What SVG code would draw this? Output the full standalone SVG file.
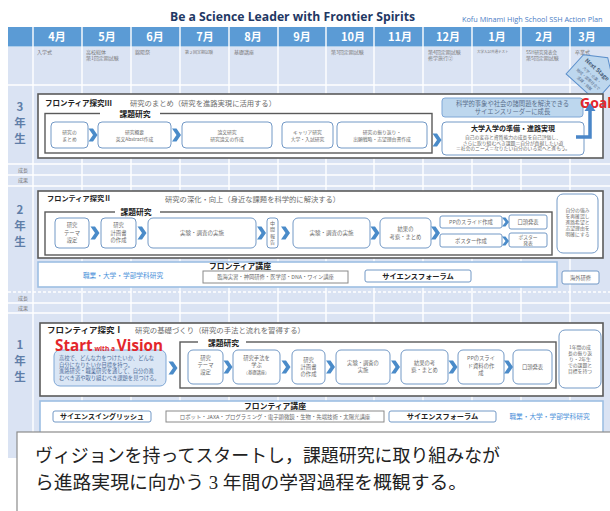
<svg xmlns="http://www.w3.org/2000/svg" width="610" height="511" viewBox="0 0 610 511">
<defs>
<style>
.j{font-family:"Noto Sans CJK JP","Noto Sans",sans-serif}
.g{fill:#6b6b6b}
.b{font-weight:700}
.bx{fill:#fff;stroke:#7399c6;stroke-width:1}
.sec{fill:#fff;stroke:#5a5a5a;stroke-width:1.6}
.inn{fill:none;stroke:#5a5a5a;stroke-width:1.4}
.low{fill:#fff;stroke:#9dbfe3;stroke-width:1.6}
.gry{fill:#fff;stroke:#8a8a8a;stroke-width:1}
.mon{font-family:"Noto Sans CJK JP",sans-serif;font-weight:700;font-size:11px;fill:#fff}
.ev{font-family:"Noto Sans CJK JP",sans-serif;font-size:5px;fill:#7a7a7a}
.yr{font-family:"Noto Sans CJK JP",sans-serif;font-weight:700;font-size:11.5px;fill:#5f7ea8}
.gl{stroke:#fff;stroke-width:1.4}
</style>
<path id="chev" d="M-4.5,-6.5 L0,-6.5 L4.5,0 L0,6.5 L-4.5,6.5 L0,0 Z" fill="#4a8bc9"/>
<path id="chevs" d="M-3.5,-4.5 L0,-4.5 L3.5,0 L0,4.5 L-3.5,4.5 L0,0 Z" fill="#4a8bc9"/>
</defs>
<rect x="0" y="0" width="610" height="511" fill="#fff"/>

<g id="grid">
<rect x="8" y="27" width="602" height="19.5" fill="#5b9bd5"/>
<rect x="8" y="47" width="602" height="411" fill="#dae3f3"/>
<g class="gl">
<line x1="33" y1="27" x2="33" y2="458"/><line x1="82" y1="27" x2="82" y2="458"/><line x1="131" y1="27" x2="131" y2="458"/><line x1="180" y1="27" x2="180" y2="458"/><line x1="229" y1="27" x2="229" y2="458"/><line x1="278" y1="27" x2="278" y2="458"/><line x1="326" y1="27" x2="326" y2="458"/><line x1="374" y1="27" x2="374" y2="458"/><line x1="423" y1="27" x2="423" y2="458"/><line x1="472" y1="27" x2="472" y2="458"/><line x1="521" y1="27" x2="521" y2="458"/><line x1="570" y1="27" x2="570" y2="458"/>
<line x1="8" y1="85" x2="610" y2="85"/><line x1="8" y1="164" x2="610" y2="164"/><line x1="8" y1="175" x2="610" y2="175"/><line x1="8" y1="186" x2="610" y2="186"/><line x1="8" y1="303" x2="610" y2="303"/><line x1="8" y1="313" x2="610" y2="313"/>
<line x1="8" y1="292" x2="610" y2="292" stroke-dasharray="3 2"/>
</g>
<g class="mon" text-anchor="middle">
<text x="57" y="41">4月</text><text x="107" y="41">5月</text><text x="155" y="41">6月</text><text x="205" y="41">7月</text><text x="253" y="41">8月</text><text x="302" y="41">9月</text><text x="353" y="41">10月</text><text x="400" y="41">11月</text><text x="448" y="41">12月</text><text x="497" y="41">1月</text><text x="544" y="41">2月</text><text x="587" y="41">3月</text>
</g>
<g class="ev">
<text x="37" y="54">入学式</text>
<text x="86" y="54">高校総体</text><text x="86" y="60">第1回定期試験</text>
<text x="135" y="54">錦陽祭</text>
<text x="185" y="54" font-size="4">第２回定期試験</text>
<text x="234" y="54">基礎講座</text>
<text x="331" y="54">第3回定期試験</text>
<text x="428" y="54">第4回定期試験</text><text x="428" y="60">修学旅行②</text>
<text x="477" y="53" font-size="3.5">大学入試共通テスト</text>
<text x="526" y="54" font-size="4.5">SSH研究発表会</text><text x="526" y="60">第5回定期試験</text>
<text x="575" y="54">卒業式</text>
</g>
<g class="yr" text-anchor="middle">
<text x="20" y="111">3</text><text x="20" y="127">年</text><text x="20" y="143">生</text>
<text x="20" y="214">2</text><text x="20" y="230">年</text><text x="20" y="246">生</text>
<text x="20" y="349">1</text><text x="20" y="365">年</text><text x="20" y="381">生</text>
</g>
<g class="ev" font-size="4.5">
<text x="18" y="172">成長</text><text x="18" y="182">成果</text>
<text x="18" y="300">成長</text><text x="18" y="310">成果</text>
</g>
</g>

<g id="title">
<text x="170" y="21" font-family="'Open Sans','Liberation Sans',sans-serif" font-weight="700" font-size="13" fill="#1f3864" textLength="245" lengthAdjust="spacingAndGlyphs">Be a Science Leader with Frontier Spirits</text>
<text x="462" y="22" font-family="'Open Sans','Liberation Sans',sans-serif" font-size="7.3" fill="#4a7cc4">Kofu Minami High School SSH Action Plan</text>
</g>

<g id="next-stage" transform="translate(593,74) rotate(42)">
<polygon points="-20,-8 0,-22 20,-8 20,18 -20,18" fill="#bdd7ee" stroke="#5b8fcb" stroke-width="1"/>
<g class="j" text-anchor="middle">
<text x="0" y="-4" font-size="5.8" font-weight="700" fill="#4a5f7a">Next Stage</text>
<text x="0" y="3" font-size="3.8" fill="#5a6f8c">大学・企業・</text>
<text x="0" y="8.5" font-size="3.8" fill="#5a6f8c">地域・国際社会で</text>
<text x="0" y="14" font-size="3.8" fill="#5a6f8c">活躍・貢献</text>
</g>
</g>

<!-- Year 3 -->
<g id="y3">
<rect class="sec" x="38" y="94" width="565" height="64"/>
<text class="j b" x="45" y="106" font-size="7.5" fill="#222">フロンティア探究Ⅲ</text>
<text class="j g" x="130" y="106" font-size="7.3">研究のまとめ（研究を進路実現に活用する）</text>
<rect class="inn" x="45" y="113.5" width="387" height="39.5"/>
<rect x="100" y="110" width="60" height="7" fill="#fff"/>
<text class="j b" x="135" y="116.5" font-size="7.8" fill="#222" text-anchor="middle">課題研究</text>
</g>
<g id="y3-matome" class="j g" font-size="4.8" text-anchor="middle"><rect class="bx" x="51" y="122" width="37" height="26" rx="4"/><text x="69.5" y="134">研究の</text><text x="69.5" y="141">まとめ</text></g>
<g id="y3-abstract" class="j g" font-size="4.8" text-anchor="middle"><rect class="bx" x="98" y="122" width="73" height="26" rx="4"/><text x="134.5" y="134">研究概要</text><text x="134.5" y="141">英文Abstract作成</text></g>
<g id="y3-ronbun" class="j g" font-size="4.8" text-anchor="middle"><rect class="bx" x="182" y="122" width="90" height="26" rx="4"/><text x="227" y="134">論文研究</text><text x="227" y="141">研究論文の作成</text></g>
<g id="y3-career" class="j g" font-size="4.8" text-anchor="middle"><rect class="bx" x="282" y="122" width="51" height="26" rx="4"/><text x="307.5" y="134">キャリア研究</text><text x="307.5" y="141">大学・入試研究</text></g>
<g id="y3-furikaeri" class="j g" font-size="4.8" text-anchor="middle"><rect class="bx" x="337" y="122" width="90" height="26" rx="4"/><text x="382" y="134">研究の振り返り・</text><text x="382" y="141">出願戦略・志望理由書作成</text></g>
<g id="y3-shinro" class="j" text-anchor="middle"><rect class="bx" x="442" y="122" width="142" height="33" rx="4"/><text x="513" y="131" font-size="7" font-weight="700" fill="#222">大学入学の準備・進路実現</text><g class="g" font-size="4.8"><text x="513" y="139">自己の変容と資質能力の成長を自己評価し、</text><text x="513" y="144.5">さらに取り組むべき課題＝自分が貢献したい道</text><text x="513" y="150">＝社会のニーズ＝なりたい自分のいる場へと進もう。</text></g></g>
<g id="y3-goal" class="j" text-anchor="middle"><rect x="442" y="98" width="141" height="19" rx="3" fill="#bdd7ee" stroke="#7fa7d6" stroke-width="1"/><text x="512.5" y="105.5" font-size="6.3" fill="#5a6f8c">科学的事象や社会の諸問題を解決できる</text><text x="512.5" y="113.5" font-size="6.3" fill="#5a6f8c">サイエンスリーダーに成長</text></g>
<text x="580" y="107.5" font-family="'Open Sans','Liberation Sans',sans-serif" font-weight="700" font-size="14" fill="#e3262b">Goal</text>

<!-- Year 2 -->
<g id="y2">
<rect class="sec" x="38" y="191" width="565" height="67"/>
<text class="j b" x="47" y="201" font-size="7.2" fill="#222">フロンティア探究Ⅱ</text>
<text class="j g" x="165" y="202" font-size="7.3">研究の深化・向上（身近な課題を科学的に解決する）</text>
<rect class="inn" x="45" y="212" width="507" height="43"/>
<rect x="115" y="208" width="45" height="7" fill="#fff"/>
<text class="j b" x="136" y="215" font-size="7.8" fill="#222" text-anchor="middle">課題研究</text>
</g>
<g id="y2-theme" class="j g" font-size="5.3" text-anchor="middle"><rect class="bx" x="55" y="218" width="34" height="30" rx="4"/><text x="72" y="227">研究</text><text x="72" y="234.5">テーマ</text><text x="72" y="242">設定</text></g>
<g id="y2-keikaku" class="j g" font-size="5.3" text-anchor="middle"><rect class="bx" x="101" y="218" width="35" height="30" rx="4"/><text x="118.5" y="227">研究</text><text x="118.5" y="234.5">計画書</text><text x="118.5" y="242">の作成</text></g>
<g id="y2-jikken1" class="j g" font-size="5.5" text-anchor="middle"><rect class="bx" x="148" y="218" width="108" height="30" rx="5"/><text x="202" y="235">実験・調査の実施</text></g>
<g id="y2-chukan" class="j g" font-size="5" text-anchor="middle"><rect class="bx" x="267" y="218" width="11" height="30" rx="3"/><text x="272.5" y="224.5">中</text><text x="272.5" y="231">間</text><text x="272.5" y="237.5">報</text><text x="272.5" y="244">告</text></g>
<g id="y2-jikken2" class="j g" font-size="5.5" text-anchor="middle"><rect class="bx" x="293" y="218" width="77" height="30" rx="5"/><text x="331.5" y="235">実験・調査の実施</text></g>
<g id="y2-kousatsu" class="j g" font-size="5.3" text-anchor="middle"><rect class="bx" x="380" y="218" width="51" height="30" rx="5"/><text x="405.5" y="231">結果の</text><text x="405.5" y="238.5">考察・まとめ</text></g>
<g id="y2-pp" class="j g" font-size="5.3" text-anchor="middle"><rect class="bx" x="440" y="216" width="62" height="12" rx="2"/><text x="471" y="224">PPのスライド作成</text></g>
<g id="y2-poster" class="j g" font-size="5.3" text-anchor="middle"><rect class="bx" x="440" y="234" width="62" height="13" rx="2"/><text x="471" y="242.5">ポスター作成</text></g>
<g id="y2-koutou" class="j g" font-size="5.3" text-anchor="middle"><rect class="bx" x="509" y="215" width="38" height="14" rx="2"/><text x="528" y="224">口頭発表</text></g>
<g id="y2-posterhappyo" class="j g" font-size="4.8" text-anchor="middle"><rect class="bx" x="509" y="233" width="38" height="14" rx="2"/><text x="528" y="238.8">ポスター</text><text x="528" y="245.3">発表</text></g>
<g id="y2-tsuyomi" class="j g" font-size="4.8" text-anchor="middle"><rect class="bx" x="557" y="194" width="41" height="59" rx="6"/><text x="577.5" y="211.5">自分の強み</text><text x="577.5" y="217.5">を再確認し</text><text x="577.5" y="223.5">進路希望と</text><text x="577.5" y="229.5">志望理由を</text><text x="577.5" y="235.5">明確にする</text></g>
<g id="y2-koza" class="j">
<rect class="low" x="38" y="262" width="519" height="25"/>
<text x="123" y="277.5" font-size="6.7" fill="#4a90d9" text-anchor="middle">職業・大学・学部学科研究</text>
<text x="240" y="269" font-size="7.8" font-weight="700" fill="#222" text-anchor="middle">フロンティア講座</text>
<rect class="gry" x="203" y="271" width="145" height="12"/>
<text x="275.5" y="279" font-size="5.3" class="g" text-anchor="middle">臨海実習・神岡研修・医学部・DNA・ワイン講座</text>
</g>
<g id="y2-forum" class="j"><rect class="bx" x="365" y="270" width="106" height="12" rx="2"/><text x="418" y="278.8" font-size="7.2" font-weight="700" fill="#222" text-anchor="middle">サイエンスフォーラム</text></g>
<g id="y2-kaigai" class="j"><rect class="bx" x="562" y="271" width="37" height="13" rx="2"/><text x="580.5" y="279.5" font-size="5.3" class="g" text-anchor="middle">海外研修</text></g>

<!-- Year 1 -->
<g id="y1">
<rect class="sec" x="40" y="323" width="563" height="73"/>
<text class="j b" x="47" y="333" font-size="8.5" fill="#222">フロンティア探究Ⅰ</text>
<text class="j g" x="135" y="333" font-size="7.4">研究の基礎づくり（研究の手法と流れを習得する）</text>
<rect class="inn" x="180" y="342" width="376" height="46"/>
<rect x="198" y="338" width="48" height="7" fill="#fff"/>
<text class="j b" x="223.5" y="345.5" font-size="7.8" fill="#222" text-anchor="middle">課題研究</text>
</g>
<g id="y1-vision">
<rect x="54" y="350" width="112" height="36" rx="6" fill="#dae6f5" stroke="#7fa7d6" stroke-width="1"/>
<text x="55" y="350.5" font-family="'Open Sans','Liberation Sans',sans-serif" font-weight="700" fill="#e3262b" textLength="108" lengthAdjust="spacingAndGlyphs"><tspan font-size="16">Start</tspan><tspan font-size="7"> with a </tspan><tspan font-size="16">Vision</tspan></text>
<g class="j" font-size="5.3" fill="#4f6d9a"><text x="59" y="360">高校で、どんな力をつけたいか、どんな</text><text x="59" y="366.5">自分になりたいか目標を持つ。</text><text x="59" y="373">進路研究・職業研究を通して、自分の進</text><text x="59" y="379.5">むべき道や取り組むべき課題を見つける。</text></g>
</g>
<g id="y1-theme" class="j g" font-size="5.3" text-anchor="middle"><rect class="bx" x="188" y="350" width="35" height="34" rx="5"/><text x="205.5" y="360">研究</text><text x="205.5" y="367">テーマ</text><text x="205.5" y="374">設定</text></g>
<g id="y1-shuho" class="j g" font-size="5.3" text-anchor="middle"><rect class="bx" x="233" y="350" width="47" height="34" rx="5"/><text x="256.5" y="360">研究手法を</text><text x="256.5" y="367">学ぶ</text><text x="256.5" y="374" font-size="4.3">（基礎講座）</text></g>
<g id="y1-keikaku" class="j g" font-size="5.3" text-anchor="middle"><rect class="bx" x="292" y="350" width="33" height="34" rx="5"/><text x="308.5" y="361.5">研究</text><text x="308.5" y="368.5">計画書</text><text x="308.5" y="375.5">の作成</text></g>
<g id="y1-jikken" class="j g" font-size="5.3" text-anchor="middle"><rect class="bx" x="336" y="350" width="54" height="34" rx="5"/><text x="363" y="365">実験・調査の</text><text x="363" y="372">実施</text></g>
<g id="y1-kousatsu" class="j g" font-size="5.3" text-anchor="middle"><rect class="bx" x="401" y="350" width="47" height="34" rx="5"/><text x="424.5" y="365">結果の考</text><text x="424.5" y="372">察・まとめ</text></g>
<g id="y1-pp" class="j g" font-size="5.3" text-anchor="middle"><rect class="bx" x="458" y="350" width="46" height="34" rx="5"/><text x="481" y="360">PPのスライ</text><text x="481" y="367.5">ド資料の作</text><text x="481" y="375">成</text></g>
<g id="y1-koutou" class="j g" font-size="5.3" text-anchor="middle"><rect class="bx" x="513" y="350" width="39" height="34" rx="5"/><text x="532.5" y="369">口頭発表</text></g>
<g id="y1-furikaeri" class="j g" font-size="4.8" text-anchor="middle"><rect class="bx" x="559" y="330" width="42" height="58" rx="6"/><text x="580" y="349">1年間の成</text><text x="580" y="355">長の振り返</text><text x="580" y="361">り・2年生</text><text x="580" y="367">での課題と</text><text x="580" y="373">目標を持つ</text></g>
<g id="y1-koza" class="j">
<rect class="low" x="40" y="401" width="563" height="32"/>
<text x="275" y="408.5" font-size="7.8" font-weight="700" fill="#222" text-anchor="middle">フロンティア講座</text>
<rect class="gry" x="166" y="411" width="218" height="11"/>
<text x="275" y="418.5" font-size="5.4" class="g" text-anchor="middle">ロボット・JAXA・プログラミング・電子顕微鏡・生物・先端技術・太陽光講座</text>
<text x="549.5" y="418.8" font-size="6.7" fill="#4a90d9" text-anchor="middle">職業・大学・学部学科研究</text>
</g>
<g id="y1-english" class="j"><rect class="bx" x="53" y="411" width="98" height="11" rx="2"/><text x="102" y="419" font-size="7" font-weight="700" fill="#222" text-anchor="middle">サイエンスイングリッシュ</text></g>
<g id="y1-forum" class="j"><rect class="bx" x="389" y="411" width="107" height="11" rx="2"/><text x="442.5" y="419" font-size="7.2" font-weight="700" fill="#222" text-anchor="middle">サイエンスフォーラム</text></g>

<g id="connectors">
<use href="#chev" x="93" y="135"/><use href="#chev" x="176.5" y="135"/><use href="#chev" x="437" y="140"/>
<use href="#chev" x="95" y="233"/><use href="#chev" x="142" y="233"/><use href="#chev" x="261.5" y="233"/><use href="#chev" x="285.5" y="233"/><use href="#chev" x="375" y="233"/><use href="#chev" x="435.5" y="233"/>
<use href="#chevs" x="505.5" y="222"/><use href="#chevs" x="505.5" y="241"/>
<use href="#chev" x="173" y="368"/><use href="#chev" x="228" y="367"/><use href="#chev" x="286" y="367"/><use href="#chev" x="330.5" y="367"/><use href="#chev" x="395.5" y="367"/><use href="#chev" x="453" y="367"/><use href="#chev" x="508.5" y="367"/>
<path d="M576,137 H590 V111" fill="none" stroke="#4a86c8" stroke-width="3.5"/>
<polygon points="584.5,111 595.5,111 590,103" fill="#4a86c8"/>
</g>

<g id="caption">
<rect x="17" y="432" width="600" height="85" fill="#fff" stroke="#8c8c8c" stroke-width="1.2"/>
<text x="35" y="462" font-family="'Liberation Serif','Noto Sans CJK JP',serif" font-size="18.5" fill="#222" textLength="465" lengthAdjust="spacingAndGlyphs">ヴィジョンを持ってスタートし，課題研究に取り組みなが</text>
<text x="35" y="489" font-family="'Liberation Serif','Noto Sans CJK JP',serif" font-size="18.5" fill="#222" textLength="432" lengthAdjust="spacingAndGlyphs">ら進路実現に向かう 3 年間の学習過程を概観する。</text>
</g>
</svg>
